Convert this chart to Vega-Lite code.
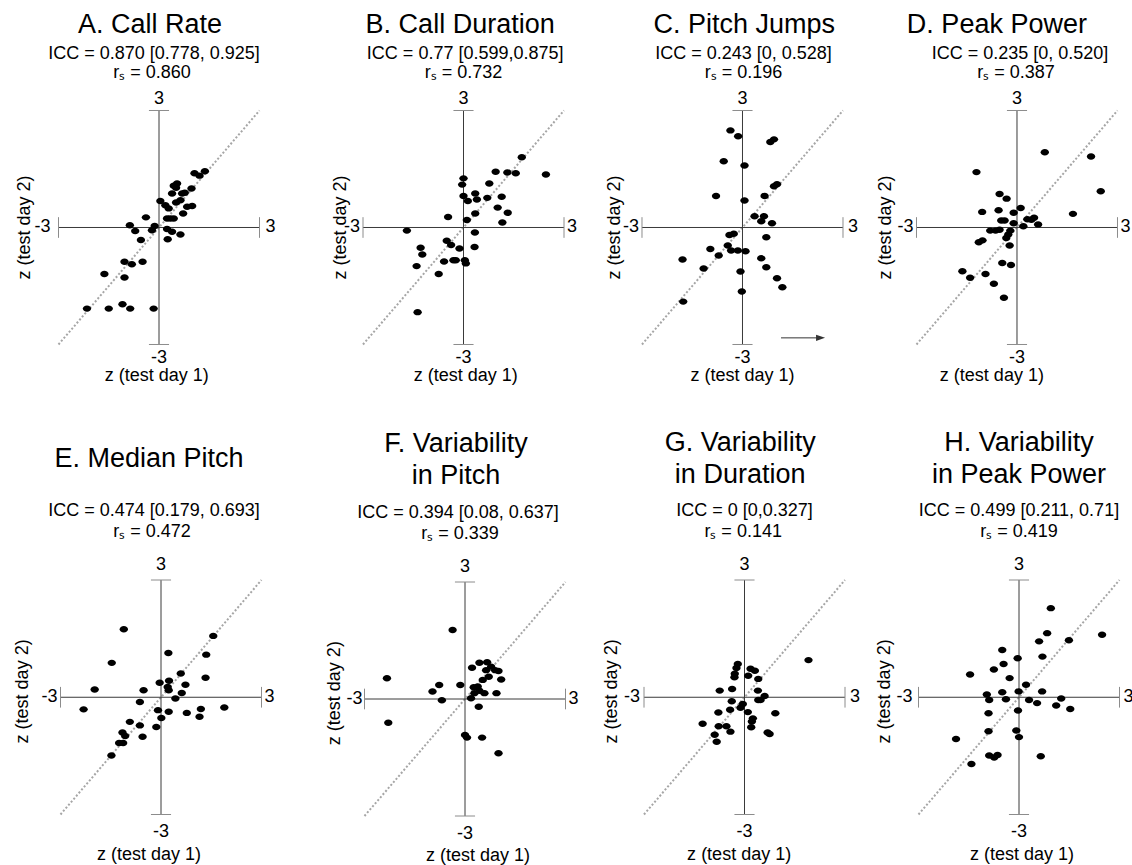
{
"$schema": "https://vega.github.io/schema/vega-lite/v6.json",
"width": 1132, "height": 865, "autosize": {"type": "none"}, "padding": 0, "background": "white",
"datasets": {
"panels": [
{"panel":"A","title":"A. Call Rate","icc":"ICC = 0.870 [0.778, 0.925]","rs":"r\u209b = 0.860"},
{"panel":"B","title":"B. Call Duration","icc":"ICC = 0.77 [0.599,0.875]","rs":"r\u209b = 0.732"},
{"panel":"C","title":"C. Pitch Jumps","icc":"ICC = 0.243 [0, 0.528]","rs":"r\u209b = 0.196"},
{"panel":"D","title":"D. Peak Power","icc":"ICC = 0.235 [0, 0.520]","rs":"r\u209b = 0.387"},
{"panel":"E","title":"E. Median Pitch","icc":"ICC = 0.474 [0.179, 0.693]","rs":"r\u209b = 0.472"},
{"panel":"F","title":"F. Variability\nin Pitch","icc":"ICC = 0.394 [0.08, 0.637]","rs":"r\u209b = 0.339"},
{"panel":"G","title":"G. Variability\nin Duration","icc":"ICC = 0 [0,0.327]","rs":"r\u209b = 0.141"},
{"panel":"H","title":"H. Variability\nin Peak Power","icc":"ICC = 0.499 [0.211, 0.71]","rs":"r\u209b = 0.419"}
],
"points": [
{"panel":"A","day1":1.37,"day2":1.44},{"panel":"A","day1":1.06,"day2":1.39},{"panel":"A","day1":1.21,"day2":1.33},{"panel":"A","day1":0.54,"day2":1.13},{"panel":"A","day1":0.44,"day2":1.07},{"panel":"A","day1":0.51,"day2":1.02},{"panel":"A","day1":0.97,"day2":1.0},{"panel":"A","day1":0.39,"day2":0.87},{"panel":"A","day1":0.69,"day2":0.87},{"panel":"A","day1":0.77,"day2":0.89},{"panel":"A","day1":0.04,"day2":0.68},{"panel":"A","day1":0.64,"day2":0.70},{"panel":"A","day1":0.51,"day2":0.64},{"panel":"A","day1":0.84,"day2":0.53},{"panel":"A","day1":0.99,"day2":0.55},{"panel":"A","day1":0.19,"day2":0.57},{"panel":"A","day1":0.29,"day2":0.49},{"panel":"A","day1":0.72,"day2":0.36},{"panel":"A","day1":-0.39,"day2":0.26},{"panel":"A","day1":0.24,"day2":0.23},{"panel":"A","day1":0.44,"day2":0.23},{"panel":"A","day1":0.34,"day2":0.23},{"panel":"A","day1":-0.87,"day2":0.06},{"panel":"A","day1":-0.13,"day2":0.04},{"panel":"A","day1":-0.21,"day2":-0.07},{"panel":"A","day1":-0.71,"day2":-0.09},{"panel":"A","day1":0.24,"day2":-0.04},{"panel":"A","day1":0.39,"day2":-0.11},{"panel":"A","day1":0.64,"day2":-0.18},{"panel":"A","day1":0.26,"day2":-0.30},{"panel":"A","day1":-0.54,"day2":-0.32},{"panel":"A","day1":-1.03,"day2":-0.88},{"panel":"A","day1":-0.81,"day2":-0.94},{"panel":"A","day1":-0.49,"day2":-0.88},{"panel":"A","day1":-1.63,"day2":-1.19},{"panel":"A","day1":-1.03,"day2":-1.28},{"panel":"A","day1":-2.15,"day2":-2.08},{"panel":"A","day1":-1.50,"day2":-2.08},{"panel":"A","day1":-1.09,"day2":-1.97},{"panel":"A","day1":-0.86,"day2":-2.08},{"panel":"A","day1":-0.16,"day2":-2.08},
{"panel":"B","day1":1.74,"day2":1.80},{"panel":"B","day1":0.96,"day2":1.43},{"panel":"B","day1":1.31,"day2":1.41},{"panel":"B","day1":1.56,"day2":1.39},{"panel":"B","day1":2.46,"day2":1.36},{"panel":"B","day1":0.0,"day2":1.26},{"panel":"B","day1":-0.04,"day2":1.10},{"panel":"B","day1":0.77,"day2":1.13},{"panel":"B","day1":0.0,"day2":0.81},{"panel":"B","day1":0.35,"day2":0.87},{"panel":"B","day1":0.13,"day2":0.68},{"panel":"B","day1":0.40,"day2":0.72},{"panel":"B","day1":0.71,"day2":0.76},{"panel":"B","day1":1.14,"day2":0.79},{"panel":"B","day1":1.02,"day2":0.51},{"panel":"B","day1":0.35,"day2":0.36},{"panel":"B","day1":1.32,"day2":0.38},{"panel":"B","day1":-0.46,"day2":0.27},{"panel":"B","day1":0.10,"day2":0.19},{"panel":"B","day1":1.16,"day2":0.13},{"panel":"B","day1":-1.69,"day2":-0.08},{"panel":"B","day1":0.34,"day2":-0.13},{"panel":"B","day1":-0.50,"day2":-0.34},{"panel":"B","day1":-0.37,"day2":-0.45},{"panel":"B","day1":-0.12,"day2":-0.54},{"panel":"B","day1":-1.28,"day2":-0.52},{"panel":"B","day1":-1.23,"day2":-0.69},{"panel":"B","day1":0.33,"day2":-0.50},{"panel":"B","day1":-1.40,"day2":-0.99},{"panel":"B","day1":-0.58,"day2":-0.87},{"panel":"B","day1":-0.30,"day2":-0.84},{"panel":"B","day1":-0.23,"day2":-0.84},{"panel":"B","day1":0.04,"day2":-0.84},{"panel":"B","day1":0.07,"day2":-0.92},{"panel":"B","day1":-0.74,"day2":-1.19},{"panel":"B","day1":-1.37,"day2":-2.17},
{"panel":"C","day1":-0.36,"day2":2.49},{"panel":"C","day1":-0.13,"day2":2.34},{"panel":"C","day1":0.83,"day2":2.19},{"panel":"C","day1":0.94,"day2":2.26},{"panel":"C","day1":-0.56,"day2":1.70},{"panel":"C","day1":0.06,"day2":1.59},{"panel":"C","day1":0.94,"day2":1.06},{"panel":"C","day1":1.03,"day2":1.11},{"panel":"C","day1":-0.79,"day2":0.81},{"panel":"C","day1":0.06,"day2":0.69},{"panel":"C","day1":0.66,"day2":0.81},{"panel":"C","day1":0.36,"day2":0.29},{"panel":"C","day1":0.64,"day2":0.29},{"panel":"C","day1":0.56,"day2":0.16},{"panel":"C","day1":0.88,"day2":0.11},{"panel":"C","day1":-0.39,"day2":-0.19},{"panel":"C","day1":-0.26,"day2":-0.16},{"panel":"C","day1":0.71,"day2":-0.25},{"panel":"C","day1":-0.96,"day2":-0.55},{"panel":"C","day1":-0.44,"day2":-0.46},{"panel":"C","day1":-0.34,"day2":-0.59},{"panel":"C","day1":-0.14,"day2":-0.59},{"panel":"C","day1":0.09,"day2":-0.61},{"panel":"C","day1":-0.71,"day2":-0.72},{"panel":"C","day1":-1.79,"day2":-0.82},{"panel":"C","day1":-1.16,"day2":-1.05},{"panel":"C","day1":0.56,"day2":-0.79},{"panel":"C","day1":0.71,"day2":-1.02},{"panel":"C","day1":-0.06,"day2":-1.13},{"panel":"C","day1":1.03,"day2":-1.30},{"panel":"C","day1":1.19,"day2":-1.53},{"panel":"C","day1":-0.02,"day2":-1.64},{"panel":"C","day1":-1.77,"day2":-1.90},
{"panel":"D","day1":0.83,"day2":1.93},{"panel":"D","day1":2.21,"day2":1.82},{"panel":"D","day1":-1.21,"day2":1.42},{"panel":"D","day1":2.50,"day2":0.93},{"panel":"D","day1":-0.52,"day2":0.86},{"panel":"D","day1":-0.31,"day2":0.74},{"panel":"D","day1":-1.04,"day2":0.40},{"panel":"D","day1":-0.55,"day2":0.44},{"panel":"D","day1":-0.10,"day2":0.38},{"panel":"D","day1":0.11,"day2":0.50},{"panel":"D","day1":1.67,"day2":0.35},{"panel":"D","day1":-0.47,"day2":0.18},{"panel":"D","day1":-0.37,"day2":0.18},{"panel":"D","day1":-0.10,"day2":0.11},{"panel":"D","day1":0.31,"day2":0.21},{"panel":"D","day1":0.51,"day2":0.25},{"panel":"D","day1":0.43,"day2":0.20},{"panel":"D","day1":0.19,"day2":0.03},{"panel":"D","day1":0.63,"day2":0.08},{"panel":"D","day1":-0.80,"day2":-0.08},{"panel":"D","day1":-0.64,"day2":-0.08},{"panel":"D","day1":-0.52,"day2":-0.06},{"panel":"D","day1":-0.20,"day2":-0.08},{"panel":"D","day1":-0.26,"day2":-0.18},{"panel":"D","day1":-0.32,"day2":-0.27},{"panel":"D","day1":-1.14,"day2":-0.38},{"panel":"D","day1":-1.03,"day2":-0.33},{"panel":"D","day1":-0.22,"day2":-0.46},{"panel":"D","day1":-0.44,"day2":-0.91},{"panel":"D","day1":-0.18,"day2":-0.96},{"panel":"D","day1":-1.63,"day2":-1.12},{"panel":"D","day1":-1.40,"day2":-1.29},{"panel":"D","day1":-0.94,"day2":-1.19},{"panel":"D","day1":-0.69,"day2":-1.44},{"panel":"D","day1":-0.39,"day2":-1.80},
{"panel":"E","day1":-1.11,"day2":1.74},{"panel":"E","day1":1.56,"day2":1.57},{"panel":"E","day1":0.22,"day2":1.13},{"panel":"E","day1":-1.47,"day2":0.88},{"panel":"E","day1":1.35,"day2":1.09},{"panel":"E","day1":0.59,"day2":0.61},{"panel":"E","day1":1.33,"day2":0.50},{"panel":"E","day1":-0.04,"day2":0.37},{"panel":"E","day1":0.24,"day2":0.42},{"panel":"E","day1":0.20,"day2":0.26},{"panel":"E","day1":0.23,"day2":0.18},{"panel":"E","day1":0.73,"day2":0.32},{"panel":"E","day1":-1.98,"day2":0.20},{"panel":"E","day1":-0.52,"day2":0.18},{"panel":"E","day1":0.62,"day2":0.11},{"panel":"E","day1":0.43,"day2":-0.03},{"panel":"E","day1":-0.63,"day2":-0.12},{"panel":"E","day1":-2.31,"day2":-0.31},{"panel":"E","day1":-0.09,"day2":-0.33},{"panel":"E","day1":0.23,"day2":-0.37},{"panel":"E","day1":0.77,"day2":-0.40},{"panel":"E","day1":1.19,"day2":-0.30},{"panel":"E","day1":1.89,"day2":-0.26},{"panel":"E","day1":1.15,"day2":-0.50},{"panel":"E","day1":0.01,"day2":-0.53},{"panel":"E","day1":-0.93,"day2":-0.63},{"panel":"E","day1":-0.63,"day2":-0.72},{"panel":"E","day1":-0.14,"day2":-0.76},{"panel":"E","day1":-1.15,"day2":-0.90},{"panel":"E","day1":-1.07,"day2":-0.99},{"panel":"E","day1":-0.55,"day2":-1.01},{"panel":"E","day1":-1.25,"day2":-1.17},{"panel":"E","day1":-1.13,"day2":-1.17},{"panel":"E","day1":-1.48,"day2":-1.49},
{"panel":"F","day1":-0.37,"day2":1.77},{"panel":"F","day1":-2.33,"day2":0.53},{"panel":"F","day1":0.21,"day2":0.80},{"panel":"F","day1":0.43,"day2":0.93},{"panel":"F","day1":0.66,"day2":0.94},{"panel":"F","day1":0.78,"day2":0.83},{"panel":"F","day1":0.90,"day2":0.74},{"panel":"F","day1":1.00,"day2":0.72},{"panel":"F","day1":0.63,"day2":0.74},{"panel":"F","day1":0.71,"day2":0.57},{"panel":"F","day1":1.08,"day2":0.50},{"panel":"F","day1":0.53,"day2":0.49},{"panel":"F","day1":-0.14,"day2":0.36},{"panel":"F","day1":-0.77,"day2":0.36},{"panel":"F","day1":-0.97,"day2":0.19},{"panel":"F","day1":0.26,"day2":0.30},{"panel":"F","day1":0.43,"day2":0.21},{"panel":"F","day1":0.58,"day2":0.15},{"panel":"F","day1":0.38,"day2":0.32},{"panel":"F","day1":0.94,"day2":0.15},{"panel":"F","day1":-0.69,"day2":-0.03},{"panel":"F","day1":0.18,"day2":0.02},{"panel":"F","day1":0.28,"day2":0.15},{"panel":"F","day1":0.41,"day2":-0.20},{"panel":"F","day1":-2.29,"day2":-0.61},{"panel":"F","day1":0.0,"day2":-0.92},{"panel":"F","day1":0.06,"day2":-0.99},{"panel":"F","day1":0.51,"day2":-0.99},{"panel":"F","day1":1.00,"day2":-1.39},
{"panel":"G","day1":1.91,"day2":0.95},{"panel":"G","day1":-0.20,"day2":0.85},{"panel":"G","day1":-0.24,"day2":0.75},{"panel":"G","day1":0.18,"day2":0.73},{"panel":"G","day1":0.31,"day2":0.68},{"panel":"G","day1":-0.29,"day2":0.60},{"panel":"G","day1":-0.30,"day2":0.51},{"panel":"G","day1":0.11,"day2":0.55},{"panel":"G","day1":0.41,"day2":0.47},{"panel":"G","day1":-0.74,"day2":0.17},{"panel":"G","day1":-0.37,"day2":0.21},{"panel":"G","day1":0.40,"day2":0.17},{"panel":"G","day1":0.60,"day2":0.03},{"panel":"G","day1":0.41,"day2":-0.07},{"panel":"G","day1":0.48,"day2":-0.07},{"panel":"G","day1":-0.38,"day2":-0.10},{"panel":"G","day1":-0.05,"day2":-0.17},{"panel":"G","day1":-0.12,"day2":-0.27},{"panel":"G","day1":-0.43,"day2":-0.32},{"panel":"G","day1":-0.78,"day2":-0.39},{"panel":"G","day1":0.10,"day2":-0.38},{"panel":"G","day1":0.92,"day2":-0.41},{"panel":"G","day1":0.25,"day2":-0.54},{"panel":"G","day1":0.22,"day2":-0.62},{"panel":"G","day1":-1.25,"day2":-0.68},{"panel":"G","day1":-0.77,"day2":-0.74},{"panel":"G","day1":-0.54,"day2":-0.74},{"panel":"G","day1":0.20,"day2":-0.77},{"panel":"G","day1":-0.42,"day2":-0.88},{"panel":"G","day1":0.69,"day2":-0.90},{"panel":"G","day1":0.75,"day2":-0.94},{"panel":"G","day1":-0.89,"day2":-0.96},{"panel":"G","day1":-0.83,"day2":-1.14},
{"panel":"H","day1":0.95,"day2":2.28},{"panel":"H","day1":0.84,"day2":1.64},{"panel":"H","day1":2.48,"day2":1.60},{"panel":"H","day1":0.60,"day2":1.43},{"panel":"H","day1":1.49,"day2":1.46},{"panel":"H","day1":-0.50,"day2":1.21},{"panel":"H","day1":-0.04,"day2":1.00},{"panel":"H","day1":0.70,"day2":1.04},{"panel":"H","day1":-0.46,"day2":0.85},{"panel":"H","day1":-0.75,"day2":0.71},{"panel":"H","day1":-1.46,"day2":0.58},{"panel":"H","day1":-0.28,"day2":0.49},{"panel":"H","day1":0.21,"day2":0.32},{"panel":"H","day1":-0.01,"day2":0.15},{"panel":"H","day1":-0.50,"day2":0.13},{"panel":"H","day1":0.69,"day2":0.15},{"panel":"H","day1":-0.96,"day2":0.07},{"panel":"H","day1":-0.89,"day2":-0.07},{"panel":"H","day1":-0.39,"day2":-0.05},{"panel":"H","day1":0.30,"day2":-0.07},{"panel":"H","day1":0.54,"day2":-0.15},{"panel":"H","day1":1.26,"day2":-0.03},{"panel":"H","day1":1.11,"day2":-0.21},{"panel":"H","day1":1.53,"day2":-0.30},{"panel":"H","day1":-0.03,"day2":-0.34},{"panel":"H","day1":-0.91,"day2":-0.41},{"panel":"H","day1":-0.91,"day2":-0.87},{"panel":"H","day1":-0.08,"day2":-0.85},{"panel":"H","day1":0.0,"day2":-1.02},{"panel":"H","day1":-1.88,"day2":-1.07},{"panel":"H","day1":-0.89,"day2":-1.49},{"panel":"H","day1":-0.74,"day2":-1.54},{"panel":"H","day1":-0.64,"day2":-1.48},{"panel":"H","day1":0.65,"day2":-1.51},{"panel":"H","day1":-1.42,"day2":-1.71}
]
},
"layer": [
{"data":{"name":"panels"},"transform":[{"filter":"datum.panel==='A'"}],"layer":[
{"mark":{"type":"rule","color":"#a6a6a6","strokeWidth":2,"strokeDash":[2,2]},"encoding":{"x":{"datum":-3,"type":"quantitative","scale":{"domain":[-4.74627,29.04478],"nice":false,"zero":false}},"y":{"datum":-3,"type":"quantitative","scale":{"domain":[-16.34615,5.83333],"nice":false,"zero":false}},"x2":{"datum":3},"y2":{"datum":3}}},
{"mark":"rule","encoding":{"x":{"datum":-3},"x2":{"datum":3},"y":{"datum":0}}},
{"mark":"rule","encoding":{"x":{"datum":0},"y":{"datum":-3},"y2":{"datum":3}}},
{"mark":{"type":"rule","color":"#8c8c8c"},"encoding":{"x":{"datum":-3},"y":{"datum":-0.265},"y2":{"datum":0.265}}},
{"mark":{"type":"rule","color":"#8c8c8c"},"encoding":{"x":{"datum":3},"y":{"datum":-0.265},"y2":{"datum":0.265}}},
{"mark":{"type":"rule","color":"#8c8c8c"},"encoding":{"x":{"datum":-0.3},"x2":{"datum":0.3},"y":{"datum":3}}},
{"mark":{"type":"rule","color":"#8c8c8c"},"encoding":{"x":{"datum":-0.3},"x2":{"datum":0.3},"y":{"datum":-3}}},
{"mark":{"type":"text","dy":-6.5},"encoding":{"x":{"datum":0},"y":{"datum":3},"text":{"value":"3"}}},
{"mark":{"type":"text","dy":18.5},"encoding":{"x":{"datum":0},"y":{"datum":-3},"text":{"value":"-3"}}},
{"mark":{"type":"text","align":"right","baseline":"middle","dx":-8},"encoding":{"x":{"datum":-3},"y":{"datum":0},"text":{"value":"-3"}}},
{"mark":{"type":"text","align":"left","baseline":"middle","dx":6},"encoding":{"x":{"datum":3},"y":{"datum":0},"text":{"value":"3"}}},
{"mark":{"type":"text","fontSize":27,"baseline":"middle","lineBreak":"\n","lineHeight":32},"encoding":{"x":{"datum":-0.27},"y":{"datum":5.2},"text":{"field":"title","type":"nominal"}}},
{"mark":"text","encoding":{"x":{"datum":-0.15},"y":{"datum":4.333},"text":{"field":"icc","type":"nominal"}}},
{"mark":"text","encoding":{"x":{"datum":-0.21},"y":{"datum":3.846},"text":{"field":"rs","type":"nominal"}}},
{"mark":"text","encoding":{"x":{"datum":-0.07},"y":{"datum":-3.936},"text":{"value":"z (test day 1)"}}},
{"mark":{"type":"text","angle":270,"baseline":"middle"},"encoding":{"x":{"datum":-4.0},"y":{"datum":0},"text":{"value":"z (test day 2)"}}},
{"data":{"name":"points"},"transform":[{"filter":"datum.panel==='A'"}],"mark":"point","encoding":{"x":{"field":"day1","type":"quantitative"},"y":{"field":"day2","type":"quantitative"}}}
]},
{"data":{"name":"panels"},"transform":[{"filter":"datum.panel==='B'"}],"layer":[
{"mark":{"type":"rule","color":"#a6a6a6","strokeWidth":2,"strokeDash":[2,2]},"encoding":{"x":{"datum":-3,"type":"quantitative","scale":{"domain":[-13.83582,19.95522],"nice":false,"zero":false}},"y":{"datum":-3,"type":"quantitative","scale":{"domain":[-16.34615,5.83333],"nice":false,"zero":false}},"x2":{"datum":3},"y2":{"datum":3}}},
{"mark":"rule","encoding":{"x":{"datum":-3},"x2":{"datum":3},"y":{"datum":0}}},
{"mark":"rule","encoding":{"x":{"datum":0},"y":{"datum":-3},"y2":{"datum":3}}},
{"mark":{"type":"rule","color":"#8c8c8c"},"encoding":{"x":{"datum":-3},"y":{"datum":-0.265},"y2":{"datum":0.265}}},
{"mark":{"type":"rule","color":"#8c8c8c"},"encoding":{"x":{"datum":3},"y":{"datum":-0.265},"y2":{"datum":0.265}}},
{"mark":{"type":"rule","color":"#8c8c8c"},"encoding":{"x":{"datum":-0.3},"x2":{"datum":0.3},"y":{"datum":3}}},
{"mark":{"type":"rule","color":"#8c8c8c"},"encoding":{"x":{"datum":-0.3},"x2":{"datum":0.3},"y":{"datum":-3}}},
{"mark":{"type":"text","dy":-6.5},"encoding":{"x":{"datum":0},"y":{"datum":3},"text":{"value":"3"}}},
{"mark":{"type":"text","dy":18.5},"encoding":{"x":{"datum":0},"y":{"datum":-3},"text":{"value":"-3"}}},
{"mark":{"type":"text","align":"right","baseline":"middle","dx":-3},"encoding":{"x":{"datum":-3},"y":{"datum":0},"text":{"value":"-3"}}},
{"mark":{"type":"text","align":"left","baseline":"middle","dx":3},"encoding":{"x":{"datum":3},"y":{"datum":0},"text":{"value":"3"}}},
{"mark":{"type":"text","fontSize":27,"baseline":"middle","lineBreak":"\n","lineHeight":32},"encoding":{"x":{"datum":-0.1},"y":{"datum":5.2},"text":{"field":"title","type":"nominal"}}},
{"mark":"text","encoding":{"x":{"datum":0.05},"y":{"datum":4.333},"text":{"field":"icc","type":"nominal"}}},
{"mark":"text","encoding":{"x":{"datum":0},"y":{"datum":3.846},"text":{"field":"rs","type":"nominal"}}},
{"mark":"text","encoding":{"x":{"datum":0.07},"y":{"datum":-3.936},"text":{"value":"z (test day 1)"}}},
{"mark":{"type":"text","angle":270,"baseline":"middle"},"encoding":{"x":{"datum":-3.67},"y":{"datum":0},"text":{"value":"z (test day 2)"}}},
{"data":{"name":"points"},"transform":[{"filter":"datum.panel==='B'"}],"mark":"point","encoding":{"x":{"field":"day1","type":"quantitative"},"y":{"field":"day2","type":"quantitative"}}}
]},
{"data":{"name":"panels"},"transform":[{"filter":"datum.panel==='C'"}],"layer":[
{"mark":{"type":"rule","color":"#a6a6a6","strokeWidth":2,"strokeDash":[2,2]},"encoding":{"x":{"datum":-3,"type":"quantitative","scale":{"domain":[-22.16418,11.62687],"nice":false,"zero":false}},"y":{"datum":-3,"type":"quantitative","scale":{"domain":[-16.34615,5.83333],"nice":false,"zero":false}},"x2":{"datum":3},"y2":{"datum":3}}},
{"mark":"rule","encoding":{"x":{"datum":-3},"x2":{"datum":3},"y":{"datum":0}}},
{"mark":"rule","encoding":{"x":{"datum":0},"y":{"datum":-3},"y2":{"datum":3}}},
{"mark":{"type":"rule","color":"#8c8c8c"},"encoding":{"x":{"datum":-3},"y":{"datum":-0.265},"y2":{"datum":0.265}}},
{"mark":{"type":"rule","color":"#8c8c8c"},"encoding":{"x":{"datum":3},"y":{"datum":-0.265},"y2":{"datum":0.265}}},
{"mark":{"type":"rule","color":"#8c8c8c"},"encoding":{"x":{"datum":-0.3},"x2":{"datum":0.3},"y":{"datum":3}}},
{"mark":{"type":"rule","color":"#8c8c8c"},"encoding":{"x":{"datum":-0.3},"x2":{"datum":0.3},"y":{"datum":-3}}},
{"mark":{"type":"text","dy":-6.5},"encoding":{"x":{"datum":0},"y":{"datum":3},"text":{"value":"3"}}},
{"mark":{"type":"text","dy":18.5},"encoding":{"x":{"datum":0},"y":{"datum":-3},"text":{"value":"-3"}}},
{"mark":{"type":"text","align":"right","baseline":"middle","dx":-3},"encoding":{"x":{"datum":-3},"y":{"datum":0},"text":{"value":"-3"}}},
{"mark":{"type":"text","align":"left","baseline":"middle","dx":5},"encoding":{"x":{"datum":3},"y":{"datum":0},"text":{"value":"3"}}},
{"mark":{"type":"text","fontSize":27,"baseline":"middle","lineBreak":"\n","lineHeight":32},"encoding":{"x":{"datum":0.05},"y":{"datum":5.2},"text":{"field":"title","type":"nominal"}}},
{"mark":"text","encoding":{"x":{"datum":0.03},"y":{"datum":4.333},"text":{"field":"icc","type":"nominal"}}},
{"mark":"text","encoding":{"x":{"datum":0.03},"y":{"datum":3.846},"text":{"field":"rs","type":"nominal"}}},
{"mark":"text","encoding":{"x":{"datum":0},"y":{"datum":-3.936},"text":{"value":"z (test day 1)"}}},
{"mark":{"type":"text","angle":270,"baseline":"middle"},"encoding":{"x":{"datum":-3.81},"y":{"datum":0},"text":{"value":"z (test day 2)"}}},
{"mark":{"type":"rule","color":"#333333"},"encoding":{"x":{"datum":1.15},"x2":{"datum":2.3},"y":{"datum":-2.83}}},
{"mark":{"type":"point","shape":"M-1,-0.7L1,0L-1,0.7Z","size":81,"color":"#333333"},"encoding":{"x":{"datum":2.33},"y":{"datum":-2.83}}},
{"data":{"name":"points"},"transform":[{"filter":"datum.panel==='C'"}],"mark":"point","encoding":{"x":{"field":"day1","type":"quantitative"},"y":{"field":"day2","type":"quantitative"}}}
]},
{"data":{"name":"panels"},"transform":[{"filter":"datum.panel==='D'"}],"layer":[
{"mark":{"type":"rule","color":"#a6a6a6","strokeWidth":2,"strokeDash":[2,2]},"encoding":{"x":{"datum":-3,"type":"quantitative","scale":{"domain":[-30.35821,3.43284],"nice":false,"zero":false}},"y":{"datum":-3,"type":"quantitative","scale":{"domain":[-16.34615,5.83333],"nice":false,"zero":false}},"x2":{"datum":3},"y2":{"datum":3}}},
{"mark":"rule","encoding":{"x":{"datum":-3},"x2":{"datum":3},"y":{"datum":0}}},
{"mark":"rule","encoding":{"x":{"datum":0},"y":{"datum":-3},"y2":{"datum":3}}},
{"mark":{"type":"rule","color":"#8c8c8c"},"encoding":{"x":{"datum":-3},"y":{"datum":-0.265},"y2":{"datum":0.265}}},
{"mark":{"type":"rule","color":"#8c8c8c"},"encoding":{"x":{"datum":3},"y":{"datum":-0.265},"y2":{"datum":0.265}}},
{"mark":{"type":"rule","color":"#8c8c8c"},"encoding":{"x":{"datum":-0.3},"x2":{"datum":0.3},"y":{"datum":3}}},
{"mark":{"type":"rule","color":"#8c8c8c"},"encoding":{"x":{"datum":-0.3},"x2":{"datum":0.3},"y":{"datum":-3}}},
{"mark":{"type":"text","dy":-6.5},"encoding":{"x":{"datum":0},"y":{"datum":3},"text":{"value":"3"}}},
{"mark":{"type":"text","dy":18.5},"encoding":{"x":{"datum":0},"y":{"datum":-3},"text":{"value":"-3"}}},
{"mark":{"type":"text","align":"right","baseline":"middle","dx":-3},"encoding":{"x":{"datum":-3},"y":{"datum":0},"text":{"value":"-3"}}},
{"mark":{"type":"text","align":"left","baseline":"middle","dx":3},"encoding":{"x":{"datum":3},"y":{"datum":0},"text":{"value":"3"}}},
{"mark":{"type":"text","fontSize":27,"baseline":"middle","lineBreak":"\n","lineHeight":32},"encoding":{"x":{"datum":-0.6},"y":{"datum":5.2},"text":{"field":"title","type":"nominal"}}},
{"mark":"text","encoding":{"x":{"datum":0.09},"y":{"datum":4.333},"text":{"field":"icc","type":"nominal"}}},
{"mark":"text","encoding":{"x":{"datum":-0.03},"y":{"datum":3.846},"text":{"field":"rs","type":"nominal"}}},
{"mark":"text","encoding":{"x":{"datum":-0.75},"y":{"datum":-3.936},"text":{"value":"z (test day 1)"}}},
{"mark":{"type":"text","angle":270,"baseline":"middle"},"encoding":{"x":{"datum":-3.9},"y":{"datum":0},"text":{"value":"z (test day 2)"}}},
{"data":{"name":"points"},"transform":[{"filter":"datum.panel==='D'"}],"mark":"point","encoding":{"x":{"field":"day1","type":"quantitative"},"y":{"field":"day2","type":"quantitative"}}}
]},
{"data":{"name":"panels"},"transform":[{"filter":"datum.panel==='E'"}],"layer":[
{"mark":{"type":"rule","color":"#a6a6a6","strokeWidth":2,"strokeDash":[2,2]},"encoding":{"x":{"datum":-3,"type":"quantitative","scale":{"domain":[-4.80597,28.98507],"nice":false,"zero":false}},"y":{"datum":-3,"type":"quantitative","scale":{"domain":[-4.29211,17.84009],"nice":false,"zero":false}},"x2":{"datum":3},"y2":{"datum":3}}},
{"mark":"rule","encoding":{"x":{"datum":-3},"x2":{"datum":3},"y":{"datum":0}}},
{"mark":"rule","encoding":{"x":{"datum":0},"y":{"datum":-3},"y2":{"datum":3}}},
{"mark":{"type":"rule","color":"#8c8c8c"},"encoding":{"x":{"datum":-3},"y":{"datum":-0.265},"y2":{"datum":0.265}}},
{"mark":{"type":"rule","color":"#8c8c8c"},"encoding":{"x":{"datum":3},"y":{"datum":-0.265},"y2":{"datum":0.265}}},
{"mark":{"type":"rule","color":"#8c8c8c"},"encoding":{"x":{"datum":-0.3},"x2":{"datum":0.3},"y":{"datum":3}}},
{"mark":{"type":"rule","color":"#8c8c8c"},"encoding":{"x":{"datum":-0.3},"x2":{"datum":0.3},"y":{"datum":-3}}},
{"mark":{"type":"text","dy":-10},"encoding":{"x":{"datum":0},"y":{"datum":3},"text":{"value":"3"}}},
{"mark":{"type":"text","dy":22.5},"encoding":{"x":{"datum":0},"y":{"datum":-3},"text":{"value":"-3"}}},
{"mark":{"type":"text","align":"right","baseline":"middle","dx":-3},"encoding":{"x":{"datum":-3},"y":{"datum":0},"text":{"value":"-3"}}},
{"mark":{"type":"text","align":"left","baseline":"middle","dx":3},"encoding":{"x":{"datum":3},"y":{"datum":0},"text":{"value":"3"}}},
{"mark":{"type":"text","fontSize":27,"baseline":"middle","lineBreak":"\n","lineHeight":32},"encoding":{"x":{"datum":-0.36},"y":{"datum":6.096},"text":{"field":"title","type":"nominal"}}},
{"mark":"text","encoding":{"x":{"datum":-0.21},"y":{"datum":4.638},"text":{"field":"icc","type":"nominal"}}},
{"mark":"text","encoding":{"x":{"datum":-0.27},"y":{"datum":4.113},"text":{"field":"rs","type":"nominal"}}},
{"mark":"text","encoding":{"x":{"datum":-0.36},"y":{"datum":-4.152},"text":{"value":"z (test day 1)"}}},
{"mark":{"type":"text","angle":270,"baseline":"middle"},"encoding":{"x":{"datum":-4.11},"y":{"datum":0.15},"text":{"value":"z (test day 2)"}}},
{"data":{"name":"points"},"transform":[{"filter":"datum.panel==='E'"}],"mark":"point","encoding":{"x":{"field":"day1","type":"quantitative"},"y":{"field":"day2","type":"quantitative"}}}
]},
{"data":{"name":"panels"},"transform":[{"filter":"datum.panel==='F'"}],"layer":[
{"mark":{"type":"rule","color":"#a6a6a6","strokeWidth":2,"strokeDash":[2,2]},"encoding":{"x":{"datum":-3,"type":"quantitative","scale":{"domain":[-13.8806,19.91045],"nice":false,"zero":false}},"y":{"datum":-3,"type":"quantitative","scale":{"domain":[-4.25641,17.92308],"nice":false,"zero":false}},"x2":{"datum":3},"y2":{"datum":3}}},
{"mark":"rule","encoding":{"x":{"datum":-3},"x2":{"datum":3},"y":{"datum":0}}},
{"mark":"rule","encoding":{"x":{"datum":0},"y":{"datum":-3},"y2":{"datum":3}}},
{"mark":{"type":"rule","color":"#8c8c8c"},"encoding":{"x":{"datum":-3},"y":{"datum":-0.265},"y2":{"datum":0.265}}},
{"mark":{"type":"rule","color":"#8c8c8c"},"encoding":{"x":{"datum":3},"y":{"datum":-0.265},"y2":{"datum":0.265}}},
{"mark":{"type":"rule","color":"#8c8c8c"},"encoding":{"x":{"datum":-0.3},"x2":{"datum":0.3},"y":{"datum":3}}},
{"mark":{"type":"rule","color":"#8c8c8c"},"encoding":{"x":{"datum":-0.3},"x2":{"datum":0.3},"y":{"datum":-3}}},
{"mark":{"type":"text","dy":-10},"encoding":{"x":{"datum":0},"y":{"datum":3},"text":{"value":"3"}}},
{"mark":{"type":"text","dy":22.5},"encoding":{"x":{"datum":0},"y":{"datum":-3},"text":{"value":"-3"}}},
{"mark":{"type":"text","align":"right","baseline":"middle","dx":-2},"encoding":{"x":{"datum":-3},"y":{"datum":0},"text":{"value":"-3"}}},
{"mark":{"type":"text","align":"left","baseline":"middle","dx":3},"encoding":{"x":{"datum":3},"y":{"datum":0},"text":{"value":"3"}}},
{"mark":{"type":"text","fontSize":27,"baseline":"middle","lineBreak":"\n","lineHeight":32},"encoding":{"x":{"datum":-0.27},"y":{"datum":6.55},"text":{"field":"title","type":"nominal"}}},
{"mark":"text","encoding":{"x":{"datum":-0.21},"y":{"datum":4.638},"text":{"field":"icc","type":"nominal"}}},
{"mark":"text","encoding":{"x":{"datum":-0.15},"y":{"datum":4.113},"text":{"field":"rs","type":"nominal"}}},
{"mark":"text","encoding":{"x":{"datum":0.39},"y":{"datum":-4.152},"text":{"value":"z (test day 1)"}}},
{"mark":{"type":"text","angle":270,"baseline":"middle"},"encoding":{"x":{"datum":-3.89},"y":{"datum":0.15},"text":{"value":"z (test day 2)"}}},
{"data":{"name":"points"},"transform":[{"filter":"datum.panel==='F'"}],"mark":"point","encoding":{"x":{"field":"day1","type":"quantitative"},"y":{"field":"day2","type":"quantitative"}}}
]},
{"data":{"name":"panels"},"transform":[{"filter":"datum.panel==='G'"}],"layer":[
{"mark":{"type":"rule","color":"#a6a6a6","strokeWidth":2,"strokeDash":[2,2]},"encoding":{"x":{"datum":-3,"type":"quantitative","scale":{"domain":[-22.22388,11.56716],"nice":false,"zero":false}},"y":{"datum":-3,"type":"quantitative","scale":{"domain":[-4.29211,17.84009],"nice":false,"zero":false}},"x2":{"datum":3},"y2":{"datum":3}}},
{"mark":"rule","encoding":{"x":{"datum":-3},"x2":{"datum":3},"y":{"datum":0}}},
{"mark":"rule","encoding":{"x":{"datum":0},"y":{"datum":-3},"y2":{"datum":3}}},
{"mark":{"type":"rule","color":"#8c8c8c"},"encoding":{"x":{"datum":-3},"y":{"datum":-0.265},"y2":{"datum":0.265}}},
{"mark":{"type":"rule","color":"#8c8c8c"},"encoding":{"x":{"datum":3},"y":{"datum":-0.265},"y2":{"datum":0.265}}},
{"mark":{"type":"rule","color":"#8c8c8c"},"encoding":{"x":{"datum":-0.3},"x2":{"datum":0.3},"y":{"datum":3}}},
{"mark":{"type":"rule","color":"#8c8c8c"},"encoding":{"x":{"datum":-0.3},"x2":{"datum":0.3},"y":{"datum":-3}}},
{"mark":{"type":"text","dy":-10},"encoding":{"x":{"datum":0},"y":{"datum":3},"text":{"value":"3"}}},
{"mark":{"type":"text","dy":22.5},"encoding":{"x":{"datum":0},"y":{"datum":-3},"text":{"value":"-3"}}},
{"mark":{"type":"text","align":"right","baseline":"middle","dx":-4},"encoding":{"x":{"datum":-3},"y":{"datum":0},"text":{"value":"-3"}}},
{"mark":{"type":"text","align":"left","baseline":"middle","dx":5},"encoding":{"x":{"datum":3},"y":{"datum":0},"text":{"value":"3"}}},
{"mark":{"type":"text","fontSize":27,"baseline":"middle","lineBreak":"\n","lineHeight":32},"encoding":{"x":{"datum":-0.13},"y":{"datum":6.505},"text":{"field":"title","type":"nominal"}}},
{"mark":"text","encoding":{"x":{"datum":0},"y":{"datum":4.638},"text":{"field":"icc","type":"nominal"}}},
{"mark":"text","encoding":{"x":{"datum":-0.04},"y":{"datum":4.113},"text":{"field":"rs","type":"nominal"}}},
{"mark":"text","encoding":{"x":{"datum":-0.16},"y":{"datum":-4.152},"text":{"value":"z (test day 1)"}}},
{"mark":{"type":"text","angle":270,"baseline":"middle"},"encoding":{"x":{"datum":-3.96},"y":{"datum":0.15},"text":{"value":"z (test day 2)"}}},
{"data":{"name":"points"},"transform":[{"filter":"datum.panel==='G'"}],"mark":"point","encoding":{"x":{"field":"day1","type":"quantitative"},"y":{"field":"day2","type":"quantitative"}}}
]},
{"data":{"name":"panels"},"transform":[{"filter":"datum.panel==='H'"}],"layer":[
{"mark":{"type":"rule","color":"#a6a6a6","strokeWidth":2,"strokeDash":[2,2]},"encoding":{"x":{"datum":-3,"type":"quantitative","scale":{"domain":[-30.41791,3.37313],"nice":false,"zero":false}},"y":{"datum":-3,"type":"quantitative","scale":{"domain":[-4.29211,17.84009],"nice":false,"zero":false}},"x2":{"datum":3},"y2":{"datum":3}}},
{"mark":"rule","encoding":{"x":{"datum":-3},"x2":{"datum":3},"y":{"datum":0}}},
{"mark":"rule","encoding":{"x":{"datum":0},"y":{"datum":-3},"y2":{"datum":3}}},
{"mark":{"type":"rule","color":"#8c8c8c"},"encoding":{"x":{"datum":-3},"y":{"datum":-0.265},"y2":{"datum":0.265}}},
{"mark":{"type":"rule","color":"#8c8c8c"},"encoding":{"x":{"datum":3},"y":{"datum":-0.265},"y2":{"datum":0.265}}},
{"mark":{"type":"rule","color":"#8c8c8c"},"encoding":{"x":{"datum":-0.3},"x2":{"datum":0.3},"y":{"datum":3}}},
{"mark":{"type":"rule","color":"#8c8c8c"},"encoding":{"x":{"datum":-0.3},"x2":{"datum":0.3},"y":{"datum":-3}}},
{"mark":{"type":"text","dy":-10},"encoding":{"x":{"datum":0},"y":{"datum":3},"text":{"value":"3"}}},
{"mark":{"type":"text","dy":22.5},"encoding":{"x":{"datum":0},"y":{"datum":-3},"text":{"value":"-3"}}},
{"mark":{"type":"text","align":"right","baseline":"middle","dx":-6},"encoding":{"x":{"datum":-3},"y":{"datum":0},"text":{"value":"-3"}}},
{"mark":{"type":"text","align":"left","baseline":"middle","dx":4},"encoding":{"x":{"datum":3},"y":{"datum":0},"text":{"value":"3"}}},
{"mark":{"type":"text","fontSize":27,"baseline":"middle","lineBreak":"\n","lineHeight":32},"encoding":{"x":{"datum":0},"y":{"datum":6.505},"text":{"field":"title","type":"nominal"}}},
{"mark":"text","encoding":{"x":{"datum":0},"y":{"datum":4.638},"text":{"field":"icc","type":"nominal"}}},
{"mark":"text","encoding":{"x":{"datum":0},"y":{"datum":4.113},"text":{"field":"rs","type":"nominal"}}},
{"mark":"text","encoding":{"x":{"datum":0.09},"y":{"datum":-4.152},"text":{"value":"z (test day 1)"}}},
{"mark":{"type":"text","angle":270,"baseline":"middle"},"encoding":{"x":{"datum":-4.0},"y":{"datum":0.15},"text":{"value":"z (test day 2)"}}},
{"data":{"name":"points"},"transform":[{"filter":"datum.panel==='H'"}],"mark":"point","encoding":{"x":{"field":"day1","type":"quantitative"},"y":{"field":"day2","type":"quantitative"}}}
]}
],
"resolve": {"scale": {"x": "independent", "y": "independent"}},
"config": {
"view": {"stroke": null},
"axis": {"disable": true},
"text": {"font": "Liberation Sans", "fontSize": 18, "color": "#000000", "baseline": "alphabetic", "align": "center"},
"rule": {"color": "#3a3a3a", "strokeWidth": 1},
"point": {"filled": true, "color": "#000000", "opacity": 1, "size": 70, "strokeWidth": 0, "shape": "M-1,0A1,0.77,0,1,1,1,0A1,0.77,0,1,1,-1,0Z"}
}
}
